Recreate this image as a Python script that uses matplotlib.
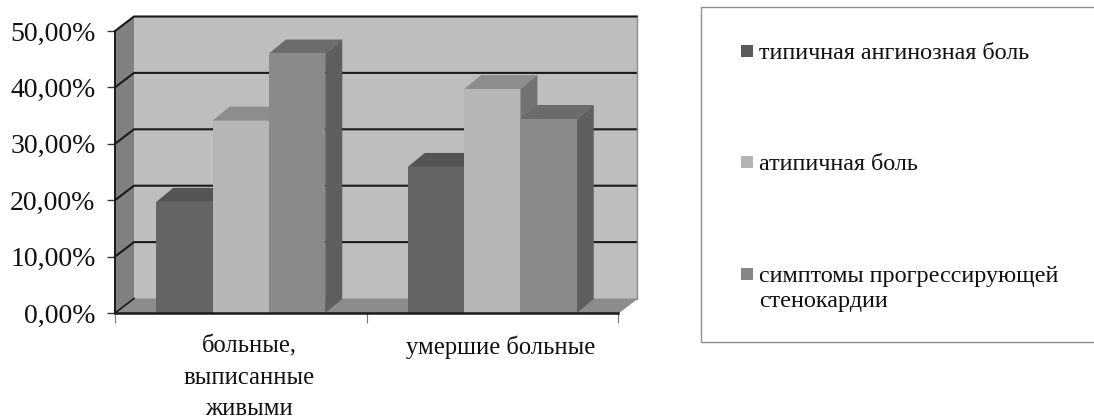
import matplotlib

matplotlib.use("Agg")
import matplotlib.pyplot as plt
from matplotlib.patches import Polygon, Rectangle

categories = ["больные,\nвыписанные\nживыми", "умершие больные"]
series_names = ["типичная ангинозная боль", "атипичная боль",
                "симптомы прогрессирующей\nстенокардии"]
typical = [19.7, 25.9]
atypical = [34.1, 39.7]
progressive = [46.0, 34.4]
y_ticks = [0, 10, 20, 30, 40, 50]
y_labels = ["0,00%", "10,00%", "20,00%", "30,00%", "40,00%", "50,00%"]

W, H = 1094, 418
WALL, SIDEWALL, FLOOR, INK = "#bebebe", "#808080", "#8c8c8c", "#1a1a1a"
# front, top, side of each series
FACES = [("#646464", "#545454", "#4e4e4e"),
         ("#b6b6b6", "#8d8d8d", "#727272"),
         ("#8a8a8a", "#6c6c6c", "#5f5f5f")]
LEGEND_COL = ["#5a5a5a", "#b4b4b4", "#858585"]

plt.rcParams["font.family"] = ["Liberation Serif", "DejaVu Serif"]

fig = plt.figure(figsize=(W / 100, H / 100), dpi=100, facecolor="white")
ax = fig.add_axes([115 / W, 1 - 313 / H, 503 / W, 282 / H])
ax.set_xlim(0, 2)
ax.set_ylim(0, 50)
ax.patch.set_visible(False)

# depth of the fake 3d box, in data units
DX, DY = 19 / 251.5, 14.5 / 5.64
BAR_DX, BAR_DY = 17 / 251.5, 14 / 5.64
BAR_W = 0.224
PAD = (1 - 3 * BAR_W) / 2


def poly(pts, color, z):
    ax.add_patch(Polygon(pts, closed=True, fc=color, ec="none", zorder=z, clip_on=False))


# walls and floor
poly([(DX, DY), (2 + DX, DY), (2 + DX, 50 + DY), (DX, 50 + DY)], WALL, 1)
poly([(0, 0), (DX, DY), (DX, 50 + DY), (0, 50)], SIDEWALL, 1)
poly([(0, 0), (2, 0), (2 + DX, DY), (DX, DY)], FLOOR, 1)

# gridlines run along the left wall and then across the back
for v in y_ticks[1:]:
    ax.plot([0, DX, 2 + DX], [v, v + DY, v + DY], color=INK, lw=1.5, zorder=2,
            clip_on=False, solid_joinstyle="miter")
ax.plot([0, DX], [0, DY], color=INK, lw=1.2, zorder=2, clip_on=False)
ax.plot([2 + DX, 2 + DX], [DY, 50 + DY], color="#8c8c8c", lw=1.0, zorder=2, clip_on=False)
ax.plot([2, 2 + DX], [0, DY], color="#8c8c8c", lw=1.0, zorder=2, clip_on=False)

# bars, series by series so each front covers the side of the previous one
z = 3
for s, values in enumerate([typical, atypical, progressive]):
    front, top, side = FACES[s]
    for c, v in enumerate(values):
        x0 = c + PAD + s * BAR_W
        x1 = x0 + BAR_W
        poly([(x0, v), (x1, v), (x1 + BAR_DX, v + BAR_DY), (x0 + BAR_DX, v + BAR_DY)], top, z)
        poly([(x1, 0), (x1 + BAR_DX, BAR_DY), (x1 + BAR_DX, v + BAR_DY), (x1, v)], side, z)
        ax.bar(x0, v, BAR_W, align="edge", color=front, zorder=z + 0.5)
    z += 1

for name in ("top", "right"):
    ax.spines[name].set_visible(False)
ax.spines["left"].set_color(INK)
ax.spines["left"].set_linewidth(1.4)
ax.spines["bottom"].set_color(INK)
ax.spines["bottom"].set_linewidth(1.8)
ax.spines["left"].set_zorder(8)
ax.spines["bottom"].set_zorder(8)

ax.set_yticks(y_ticks, y_labels, fontsize=20, color="#111111")
ax.tick_params(axis="y", length=6, width=1.0, color="#333333", pad=8)
ax.set_xticks([0, 1, 2], ["", "", ""])
ax.tick_params(axis="x", length=7, width=0.8, color="#777777")

for c, label in enumerate(categories):
    ax.annotate(label, xy=(c + 0.5, 0), xycoords="data", xytext=(6, -16),
                textcoords="offset points", ha="center", va="top", fontsize=17.7,
                linespacing=1.55, color="#111111", annotation_clip=False)

# legend box runs off the right side of the image
fig.add_artist(Rectangle((701 / W, 1 - 342 / H), 500 / W, 335 / H, transform=fig.transFigure,
                         fc="white", ec="#8f8f8f", lw=1.0))
legend_y = [51, 162, 274]
for name, col, py in zip(series_names, LEGEND_COL, legend_y):
    fig.add_artist(Rectangle((741 / W, 1 - (py + 6) / H), 12 / W, 12 / H,
                             transform=fig.transFigure, fc=col, ec="none"))
    fig.text(759 / W, 1 - (py - 8) / H, name, fontsize=17.4, ha="left", va="top",
             color="#111111", linespacing=1.25)

fig.savefig("out.png", dpi=100)
